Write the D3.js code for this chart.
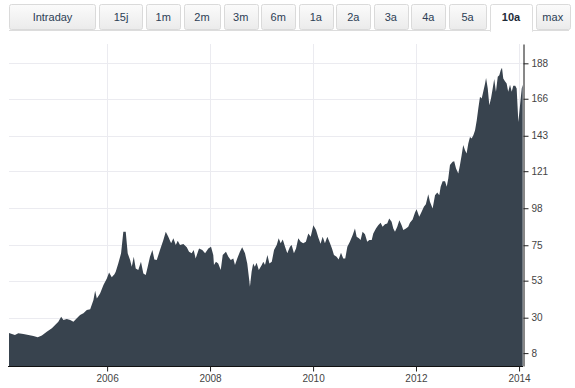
<!DOCTYPE html>
<html>
<head>
<meta charset="utf-8">
<script src="https://cdn.jsdelivr.net/npm/d3@7"></script>
<style>
  body { margin: 0; background: #fff; }
  svg { display: block; font-family: "Liberation Sans", Arial, sans-serif; }
</style>
</head>
<body>
<svg width="575" height="388"></svg>
<script>
// Data: closing prices
const dates = [
  "2004-02-05","2004-03-18","2004-04-11","2004-05-17","2004-06-22","2004-07-27","2004-08-27","2004-09-25",
  "2004-10-30","2004-12-05","2004-12-28","2005-01-20","2005-02-09","2005-02-25","2005-03-21","2005-04-14",
  "2005-05-07","2005-05-31","2005-06-23","2005-07-17","2005-08-10","2005-09-03","2005-09-26","2005-10-08",
  "2005-10-20","2005-11-12","2005-12-06","2005-12-30","2006-01-15","2006-02-03","2006-02-22","2006-03-03",
  "2006-03-21","2006-04-10","2006-04-26","2006-05-13","2006-05-27","2006-06-13","2006-06-25","2006-07-09",
  "2006-07-23","2006-08-10","2006-08-29","2006-09-15","2006-10-02","2006-10-16","2006-11-01","2006-11-18",
  "2006-12-02","2006-12-19","2007-01-11","2007-02-04","2007-02-21","2007-03-11","2007-03-31","2007-04-16",
  "2007-05-03","2007-05-17","2007-06-02","2007-06-26","2007-07-20","2007-08-05","2007-08-24","2007-09-07",
  "2007-09-21","2007-10-15","2007-11-07","2007-11-27","2007-12-20","2008-01-08","2008-01-24","2008-01-29",
  "2008-02-12","2008-02-28","2008-03-17","2008-03-31","2008-04-23","2008-05-10","2008-05-27","2008-06-14",
  "2008-06-26","2008-07-12","2008-07-31","2008-08-16","2008-09-05","2008-09-21","2008-10-05","2008-10-10",
  "2008-10-22","2008-11-02","2008-11-14","2008-11-26","2008-12-12","2009-01-02","2009-01-13","2009-01-25",
  "2009-02-11","2009-02-25","2009-03-14","2009-03-30","2009-04-18","2009-05-02","2009-05-16","2009-05-31",
  "2009-06-16","2009-07-02","2009-07-21","2009-08-02","2009-08-18","2009-09-02","2009-09-18","2009-10-05",
  "2009-10-23","2009-11-11","2009-11-28","2009-12-15","2010-01-03","2010-01-22","2010-02-07","2010-02-23",
  "2010-03-10","2010-03-26","2010-04-12","2010-05-01","2010-05-15","2010-05-29","2010-06-17","2010-07-01",
  "2010-07-18","2010-08-03","2010-08-17","2010-09-01","2010-09-19","2010-10-09","2010-10-25","2010-11-06",
  "2010-11-22","2010-12-04","2010-12-18","2011-01-04","2011-01-20","2011-02-04","2011-02-21","2011-03-04",
  "2011-03-23","2011-04-08","2011-04-25","2011-05-09","2011-05-26","2011-06-11","2011-06-25","2011-07-12",
  "2011-07-24","2011-08-05","2011-08-21","2011-09-05","2011-09-21","2011-10-03","2011-10-22","2011-11-07",
  "2011-11-19","2011-12-08","2011-12-25","2012-01-05","2012-01-24","2012-02-10","2012-02-26","2012-03-11",
  "2012-03-28","2012-04-09","2012-04-28","2012-05-15","2012-05-31","2012-06-14","2012-06-24","2012-07-08",
  "2012-07-25","2012-08-06","2012-08-17","2012-08-29","2012-09-17","2012-09-28","2012-10-11","2012-10-27",
  "2012-11-08","2012-11-20","2012-12-01","2012-12-13","2012-12-25","2013-01-06","2013-01-18","2013-01-30",
  "2013-02-11","2013-02-23","2013-03-07","2013-03-18","2013-03-30","2013-04-11","2013-04-22","2013-05-05",
  "2013-05-12","2013-05-24","2013-06-04","2013-06-16","2013-06-28","2013-07-09","2013-07-21","2013-08-03",
  "2013-08-14","2013-08-24","2013-09-02","2013-09-11","2013-09-23","2013-10-05","2013-10-16","2013-10-29",
  "2013-11-10","2013-11-21","2013-12-05","2013-12-15","2013-12-27","2014-01-08","2014-01-20","2014-01-27"
];

const prices = [
  20.5, 19.2, 20.3, 19.9, 19.2, 18.6, 17.8, 19.0,
  21.3, 23.4, 25.4, 27.5, 30.6, 28.6, 29.2, 28.6,
  27.5, 29.6, 31.7, 32.7, 34.8, 35.2, 41.0, 46.7,
  42.0, 45.0, 50.3, 54.4, 58.0, 55.2, 57.0, 58.5,
  63.7, 70.0, 83.4, 83.4, 70.0, 65.8, 61.6, 67.8,
  60.6, 59.6, 64.7, 57.5, 56.5, 61.6, 67.8, 72.0,
  66.2, 65.8, 72.0, 78.2, 83.4, 80.3, 76.2, 79.3,
  75.1, 77.8, 75.1, 75.7, 73.7, 71.0, 70.0, 72.0,
  66.8, 73.0, 72.0, 70.0, 73.0, 74.0, 68.9, 62.7,
  64.7, 63.7, 59.6, 68.9, 71.0, 67.8, 65.8, 66.8,
  62.7, 66.8, 71.0, 73.7, 70.0, 63.7, 53.4, 49.2,
  58.5, 63.7, 61.6, 64.1, 59.6, 62.7, 64.7, 62.7,
  68.9, 63.7, 64.7, 72.0, 75.1, 79.3, 76.2, 78.6,
  74.0, 70.0, 74.0, 75.1, 70.0, 73.0, 79.3, 77.2,
  76.2, 77.2, 82.3, 80.3, 87.5, 84.4, 79.8, 76.0,
  80.3, 76.2, 80.3, 76.2, 73.0, 68.9, 67.8, 66.2,
  70.3, 66.8, 66.8, 74.0, 77.2, 81.3, 85.4, 80.3,
  79.3, 78.2, 83.4, 81.9, 77.2, 78.2, 78.2, 82.3,
  85.4, 87.5, 88.9, 86.5, 88.1, 88.5, 91.6, 89.6,
  85.4, 83.4, 86.5, 90.6, 87.5, 84.4, 85.4, 86.5,
  89.0, 91.0, 95.3, 97.3, 92.7, 95.8, 98.9, 100.4,
  106.6, 102.0, 97.9, 106.1, 107.8, 106.1, 111.3, 114.8,
  114.8, 111.3, 116.5, 124.8, 126.8, 127.2, 122.6, 119.5,
  124.8, 131.0, 137.2, 134.1, 132.0, 138.2, 142.3, 141.3,
  143.4, 146.5, 152.7, 159.9, 167.2, 166.2, 170.3, 175.4,
  178.9, 172.3, 162.0, 166.2, 172.3, 178.2, 170.3, 179.6,
  180.6, 183.7, 185.2, 178.5, 176.9, 175.4, 170.3, 174.7,
  170.3, 174.0, 174.0, 172.3, 151.6, 162.0, 172.3, 174.7
];

const yTickValues = [8, 30, 53, 75, 98, 121, 143, 166, 188];
const xTickYears = [2006, 2008, 2010, 2012, 2014];
const periods = ["Intraday", "15j", "1m", "2m", "3m", "6m", "1a", "2a", "3a", "4a", "5a", "10a", "max"];
const selectedPeriod = "10a";

const svg = d3.select("svg");
const parse = d3.timeParse("%Y-%m-%d");
const data = dates.map((d, i) => ({ date: parse(d), value: prices[i] }));

// Scales
const plotLeft = 9, plotRight = 523, plotTop = 44, plotBottom = 366;
const x = d3.scaleTime()
  .domain([parse("2004-02-05"), parse("2014-01-29")])
  .range([plotLeft, plotRight]);
const y = d3.scaleLinear().domain([0, 200]).range([plotBottom, plotTop]);

// Period buttons
const btnWidths = { "Intraday": 87, "15j": 44, "10a": 43, "5a": 38, "2m": 37 };
const tabs = svg.append("g").attr("class", "tabs");
const grad = svg.append("defs").append("linearGradient")
  .attr("id", "btn").attr("x1", 0).attr("y1", 0).attr("x2", 0).attr("y2", 1);
grad.append("stop").attr("offset", "0%").attr("stop-color", "#fbfbfb");
grad.append("stop").attr("offset", "100%").attr("stop-color", "#ebebeb");

tabs.append("line")
  .attr("x1", 9).attr("x2", 569).attr("y1", 30.5).attr("y2", 30.5)
  .attr("stroke", "#dcdcdc");

let bx = 9;
periods.forEach(p => {
  const w = btnWidths[p] || 34.5;
  const sel = p === selectedPeriod;
  tabs.append("rect")
    .attr("x", Math.round(bx) + 0.5).attr("y", 4.5)
    .attr("width", Math.round(w) - 1).attr("height", sel ? 28 : 25)
    .attr("rx", 2)
    .attr("fill", sel ? "#fff" : "url(#btn)")
    .attr("stroke", sel ? "#dcdcdc" : "#dadada");
  if (sel) {
    // open bottom edge of the active tab
    tabs.append("rect")
      .attr("x", Math.round(bx) + 1).attr("y", 29)
      .attr("width", Math.round(w) - 2).attr("height", 5)
      .attr("fill", "#fff");
  }
  tabs.append("text")
    .attr("x", bx + w / 2).attr("y", 21)
    .attr("text-anchor", "middle")
    .attr("font-size", "11px")
    .attr("font-weight", sel ? "bold" : "normal")
    .attr("fill", sel ? "#1e2a38" : "#2c3e55")
    .text(p);
  bx += w + 3;
});

// Gridlines
const grid = svg.append("g").attr("class", "grid");
grid.selectAll("line.h")
  .data(yTickValues)
  .join("line")
  .attr("class", "h")
  .attr("x1", plotLeft).attr("x2", plotRight)
  .attr("y1", d => Math.round(y(d)) + 0.5).attr("y2", d => Math.round(y(d)) + 0.5)
  .attr("stroke", "#ebebf0");
grid.selectAll("line.v")
  .data(xTickYears)
  .join("line")
  .attr("class", "v")
  .attr("x1", d => Math.round(x(new Date(d, 0, 1))) + 0.5)
  .attr("x2", d => Math.round(x(new Date(d, 0, 1))) + 0.5)
  .attr("y1", plotTop).attr("y2", plotBottom)
  .attr("stroke", "#ebebf0");

// Area
const area = d3.area()
  .x(d => x(d.date))
  .y0(y(0))
  .y1(d => y(d.value));

svg.append("path")
  .datum(data)
  .attr("fill", "#38434e")
  .attr("d", area);

// Axes
const yAxis = svg.append("g")
  .attr("transform", `translate(${plotRight + 0.5},0)`)
  .call(d3.axisRight(y).tickValues(yTickValues).tickSize(5).tickSizeOuter(0).tickPadding(3));

const xAxis = svg.append("g")
  .attr("transform", `translate(0,${plotBottom + 0.5})`)
  .call(d3.axisBottom(x)
    .tickValues(xTickYears.map(d => new Date(d, 0, 1)))
    .tickFormat(d3.timeFormat("%Y"))
    .tickSize(5).tickSizeOuter(0).tickPadding(3));

[yAxis, xAxis].forEach(g => {
  g.select(".domain").attr("stroke", "#111");
  g.selectAll(".tick line").attr("stroke", "#222");
  g.selectAll(".tick text")
    .attr("fill", "#444")
    .attr("font-size", "10px")
    .attr("font-family", "'Liberation Sans', Arial, sans-serif");
});
xAxis.select(".domain").attr("d", `M${plotLeft - 1},0H${plotRight}`);
</script>
</body>
</html>
